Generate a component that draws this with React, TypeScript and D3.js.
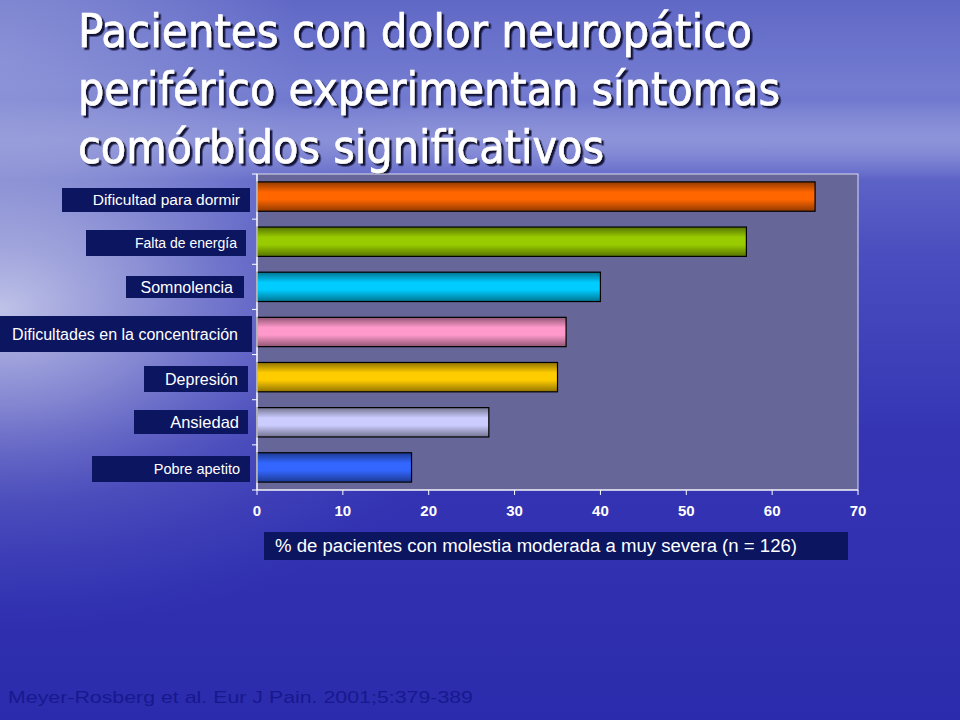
import React from "react";
import * as d3 from "d3";

const categories = [
  "Dificultad para dormir",
  "Falta de energía",
  "Somnolencia",
  "Dificultades en la concentración",
  "Depresión",
  "Ansiedad",
  "Pobre apetito",
];
const values = [65, 57, 40, 36, 35, 27, 18];
const barColors = ["#ff6600", "#99cc00", "#00ccff", "#ff99cc", "#ffcc00", "#ccccff", "#3366ff"];
const xTicks = [0, 10, 20, 30, 40, 50, 60, 70];
const titleLines = [
  "Pacientes con dolor neuropático",
  "periférico experimentan síntomas",
  "comórbidos significativos",
];
const xTitle = "% de pacientes con molestia moderada a muy severa (n = 126)";
const citation = "Meyer-Rosberg et al. Eur J Pain. 2001;5:379-389";

// layout of label boxes (pixels)
const labelFontSizes = [15.5, 14, 16, 16, 16, 16.5, 14.5];
const labelBoxLeft = [62, 86, 126, 0, 144, 134, 92];
const labelBoxRight = [250, 246, 244, 252, 248, 248, 250];
const labelBoxTop = [188, 230, 276, 316, 366, 410, 456];
const labelBoxBottom = [212, 256, 298, 352, 392, 434, 482];
const labelTextRight = [240, 237, 233, 238, 238, 239, 240];

const W = 960, H = 720;
const plot = { left: 257, right: 858, top: 174, bottom: 490 };

export default function App() {
  const x = d3.scaleLinear().domain([0, 70]).range([plot.left, plot.right]);
  const y = d3.scaleBand().domain(categories).range([plot.top, plot.bottom]).paddingInner(0.35).paddingOuter(0.175);
  const band = d3.scaleBand().domain(categories).range([plot.top, plot.bottom]);
  const titleLens = [674, 702, 526];
  const titleY = [47, 105, 163];

  return (
    <svg width={W} height={H} style={{ position: "absolute", left: 0, top: 0 }} xmlns="http://www.w3.org/2000/svg">
      <defs>
        <linearGradient id="bg" x1="0" y1="0" x2="0" y2="1">
          <stop offset="0" stopColor="#6068c6" />
          <stop offset="0.12" stopColor="#737cd0" />
          <stop offset="0.2" stopColor="#656dca" />
          <stop offset="0.35" stopColor="#4a4ebf" />
          <stop offset="0.6" stopColor="#3535b4" />
          <stop offset="1" stopColor="#2b2bad" />
        </linearGradient>
        <radialGradient id="glow" cx="0" cy="310" r="520" gradientUnits="userSpaceOnUse" gradientTransform="translate(0,310) scale(1,0.62) translate(0,-310)">
          <stop offset="0" stopColor="#d4d7ef" stopOpacity="0.85" />
          <stop offset="0.3" stopColor="#b4b8e2" stopOpacity="0.6" />
          <stop offset="0.6" stopColor="#8c92d4" stopOpacity="0.28" />
          <stop offset="1" stopColor="#6068c8" stopOpacity="0" />
        </radialGradient>
        <radialGradient id="glowTop" cx="0" cy="60" r="300" gradientUnits="userSpaceOnUse">
          <stop offset="0" stopColor="#a8aee0" stopOpacity="0.55" />
          <stop offset="1" stopColor="#a8aee0" stopOpacity="0" />
        </radialGradient>
        <linearGradient id="horizon" x1="0" y1="0" x2="0" y2="1">
          <stop offset="0" stopColor="#ffffff" stopOpacity="0" />
          <stop offset="0.5" stopColor="#c8ccf0" stopOpacity="0.4" />
          <stop offset="1" stopColor="#ffffff" stopOpacity="0" />
        </linearGradient>
        {barColors.map((c, i) => {
          const dark = d3.color(c)!.darker(1.6).formatHex();
          return (
            <linearGradient key={i} id={`bar${i}`} x1="0" y1="0" x2="0" y2="1">
              <stop offset="0" stopColor={dark} />
              <stop offset="0.35" stopColor={c} />
              <stop offset="0.6" stopColor={c} />
              <stop offset="1" stopColor={dark} />
            </linearGradient>
          );
        })}
        <filter id="shadow" x="-5%" y="-20%" width="110%" height="150%">
          <feDropShadow dx="2.5" dy="2.5" stdDeviation="0.7" floodColor="#08082e" floodOpacity="0.95" />
        </filter>
      </defs>

      <rect x={0} y={0} width={W} height={H} fill="url(#bg)" />
      <rect x={0} y={100} width={W} height={80} fill="url(#horizon)" />
      <rect x={0} y={0} width={W} height={H} fill="url(#glowTop)" />
      <rect x={0} y={0} width={W} height={H} fill="url(#glow)" />

      {titleLines.map((t, i) => (
        <text key={i} x={78} y={titleY[i]} fill="#ffffff" stroke="#ffffff" strokeWidth={0.6}
          fontFamily="DejaVu Sans Condensed, DejaVu Sans, sans-serif"
          fontSize={47} textLength={titleLens[i]} lengthAdjust="spacingAndGlyphs" filter="url(#shadow)">{t}</text>
      ))}

      <rect x={plot.left} y={plot.top} width={plot.right - plot.left} height={plot.bottom - plot.top} fill="#666699" stroke="#dcdcf0" strokeWidth={1} />

      {categories.map((c, i) => (
        <rect key={c} x={x(0)} y={y(c)!} width={x(values[i]) - x(0)} height={y.bandwidth()} fill={`url(#bar${i})`} stroke="#000" strokeWidth={1.2} />
      ))}

      {/* y axis */}
      <line x1={plot.left} x2={plot.left} y1={plot.top} y2={plot.bottom} stroke="#ffffff" strokeWidth={1.2} />
      {categories.map((c) => (
        <line key={c} x1={plot.left - 5} x2={plot.left} y1={band(c)!} y2={band(c)!} stroke="#ffffff" />
      ))}
      <line x1={plot.left - 5} x2={plot.left} y1={plot.bottom} y2={plot.bottom} stroke="#ffffff" />

      {/* x axis */}
      <line x1={plot.left} x2={plot.right} y1={plot.bottom} y2={plot.bottom} stroke="#ffffff" strokeWidth={1.2} />
      {xTicks.map((t) => (
        <g key={t}>
          <line x1={x(t)} x2={x(t)} y1={plot.bottom} y2={plot.bottom + 5} stroke="#ffffff" />
          <text x={x(t)} y={516} textAnchor="middle" fill="#ffffff" fontFamily="Liberation Sans, Arial, sans-serif" fontWeight="bold" fontSize={15}>{t}</text>
        </g>
      ))}

      {/* category labels */}
      {categories.map((c, i) => {
        const cy = (labelBoxTop[i] + labelBoxBottom[i]) / 2;
        return (
          <g key={c}>
            <rect x={labelBoxLeft[i]} y={labelBoxTop[i]} width={labelBoxRight[i] - labelBoxLeft[i]} height={labelBoxBottom[i] - labelBoxTop[i]} fill="#0c1560" />
            <text x={labelTextRight[i]} y={cy} dy="0.35em" textAnchor="end" fill="#ffffff"
              fontFamily="Liberation Sans, Arial, sans-serif" fontSize={labelFontSizes[i]}>{c}</text>
          </g>
        );
      })}

      {/* x title */}
      <rect x={264} y={532} width={584} height={28} fill="#0c1560" />
      <text x={275} y={546} dy="0.35em" fill="#ffffff" fontFamily="Liberation Sans, Arial, sans-serif" fontSize={18} textLength={522} lengthAdjust="spacingAndGlyphs">{xTitle}</text>

      <text x={8} y={703} fill="#18188e" fontFamily="Liberation Sans, Arial, sans-serif" fontSize={17} textLength={465} lengthAdjust="spacingAndGlyphs">{citation}</text>
    </svg>
  );
}
